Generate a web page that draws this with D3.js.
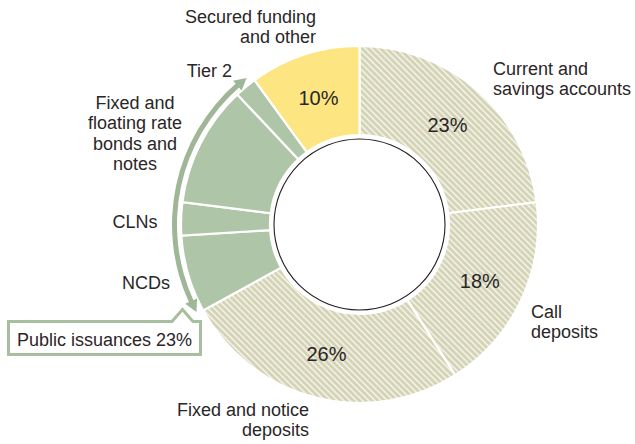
<!DOCTYPE html>
<html>
<head>
<meta charset="utf-8">
<script src="https://cdn.jsdelivr.net/npm/d3@7"></script>
<style>
  html, body { margin: 0; padding: 0; background: #fff; }
  svg text { font-family: "Liberation Sans", Arial, sans-serif; fill: #2a2627; }
</style>
</head>
<body>
<svg id="chart" width="635" height="444"></svg>
<script>
// Funding mix (% of total), clockwise from 12 o'clock
const categories = [
  "Current and savings accounts", "Call deposits", "Fixed and notice deposits",
  "NCDs", "CLNs", "Fixed and floating rate bonds and notes", "Tier 2",
  "Secured funding and other"
];
const shares = [23, 18, 26, 7, 3, 11, 2, 10];
const kinds = ["deposit", "deposit", "deposit", "public", "public", "public", "public", "secured"];
const showShare = [true, true, true, false, false, false, false, true];
const labelLines = [
  ["Current and", "savings accounts"],
  ["Call", "deposits"],
  ["Fixed and notice", "deposits"],
  ["NCDs"],
  ["CLNs"],
  ["Fixed and", "floating rate", "bonds and", "notes"],
  ["Tier 2"],
  ["Secured funding", "and other"]
];
const groupName = "Public issuances";

const svg = d3.select("#chart");
const cx = 359.5, cy = 224.5;
const rOuter = 178.5, rInner = 89.5, rHole = 85.5, rLabel = 133;
const deg = Math.PI / 180;

const colour = d3.scaleOrdinal()
  .domain(["deposit", "public", "secured"])
  .range(["url(#hatch)", "#afc5a7", "#fde581"]);

// diagonal stripes for the deposit segments
const defs = svg.append("defs");
const pat = defs.append("pattern")
  .attr("id", "hatch")
  .attr("patternUnits", "userSpaceOnUse")
  .attr("width", 4.4).attr("height", 10)
  .attr("patternTransform", "rotate(-45)");
pat.append("rect").attr("width", 4.4).attr("height", 10).attr("fill", "#d4d3b4");
pat.append("rect").attr("width", 1.5).attr("height", 10).attr("fill", "#f4f4ee");

const data = categories.map((c, i) => ({ name: c, value: shares[i], kind: kinds[i], i }));
const pie = d3.pie().value(d => d.value).sort(null).startAngle(0).endAngle(2 * Math.PI);
const arcs = pie(data);

const arc = d3.arc().innerRadius(rInner).outerRadius(rOuter);
const g = svg.append("g").attr("transform", `translate(${cx},${cy})`);

g.selectAll("path.seg")
  .data(arcs)
  .join("path")
  .attr("class", "seg")
  .attr("d", arc)
  .attr("fill", d => colour(d.data.kind))
  .attr("stroke", "#fff")
  .attr("stroke-width", 2.2)
  .attr("stroke-linejoin", "miter");

// centre disc
g.append("circle").attr("r", rHole).attr("fill", "#fff")
  .attr("stroke", "#231f20").attr("stroke-width", 1.1);

// share labels inside the ring
const labelArc = d3.arc().innerRadius(rLabel).outerRadius(rLabel);
g.selectAll("text.pct")
  .data(arcs.filter(d => showShare[d.data.i]))
  .join("text")
  .attr("class", "pct")
  .attr("transform", d => `translate(${labelArc.centroid(d)})`)
  .attr("text-anchor", "middle")
  .attr("dy", "0.36em")
  .style("font-size", "20px")
  .text(d => d.data.value + "%");

// category labels around the ring
const labelPos = [
  { x: 493, y: 75, anchor: "start" },
  { x: 531, y: 318, anchor: "start" },
  { x: 309, y: 416, anchor: "end" },
  { x: 146, y: 289, anchor: "middle" },
  { x: 135, y: 228, anchor: "middle" },
  { x: 135, y: 109, anchor: "middle" },
  { x: 232, y: 77, anchor: "end" },
  { x: 316, y: 23, anchor: "end" }
];
const lineH = 20.3;
labelLines.forEach((lines, i) => {
  const p = labelPos[i];
  const t = svg.append("text")
    .attr("x", p.x).attr("y", p.y)
    .attr("text-anchor", p.anchor)
    .style("font-size", "18px");
  lines.forEach((ln, k) => {
    t.append("tspan").attr("x", p.x).attr("y", p.y + k * lineH).text(ln);
  });
});

// bracket arrow spanning the public issuance segments
const pub = arcs.filter(d => d.data.kind === "public");
const a0 = d3.min(pub, d => d.startAngle) + 0.6 * deg;
const a1 = d3.max(pub, d => d.endAngle) - 1.6 * deg;
const rArrow = 185, headLen = 12, headW = 13, shaftW = 5;
const headA = headLen / rArrow;
const arrowCol = "#9fb796";

g.append("path")
  .attr("d", d3.arc().innerRadius(rArrow - shaftW / 2).outerRadius(rArrow + shaftW / 2)
    .startAngle(a0 + headA * 0.9).endAngle(a1 - headA * 0.9)())
  .attr("fill", arrowCol);

const pt = (a, r) => [r * Math.sin(a), -r * Math.cos(a)];
function head(tipA, dir) {
  const baseA = tipA - dir * headA;
  const tip = pt(tipA, rArrow);
  const b1 = pt(baseA, rArrow - headW / 2);
  const b2 = pt(baseA, rArrow + headW / 2);
  return `M${tip}L${b1}L${b2}Z`;
}
g.append("path").attr("d", head(a1, 1)).attr("fill", arrowCol);
g.append("path").attr("d", head(a0, -1)).attr("fill", arrowCol);

// callout box for the public issuance total
const pubTotal = d3.sum(pub, d => d.data.value);
const bx0 = 8.5, bx1 = 200.5, by0 = 321.5, by1 = 354.5;
svg.append("path")
  .attr("d", `M${bx0},${by0}H172L182.5,309.5L193,${by0}H${bx1}V${by1}H${bx0}Z`)
  .attr("fill", "#fff")
  .attr("stroke", "#a7be9f")
  .attr("stroke-width", 3)
  .attr("stroke-linejoin", "miter");
svg.append("text")
  .attr("x", (bx0 + bx1) / 2).attr("y", 346)
  .attr("text-anchor", "middle")
  .style("font-size", "18px")
  .text(`${groupName} ${pubTotal}%`);
</script>
</body>
</html>
